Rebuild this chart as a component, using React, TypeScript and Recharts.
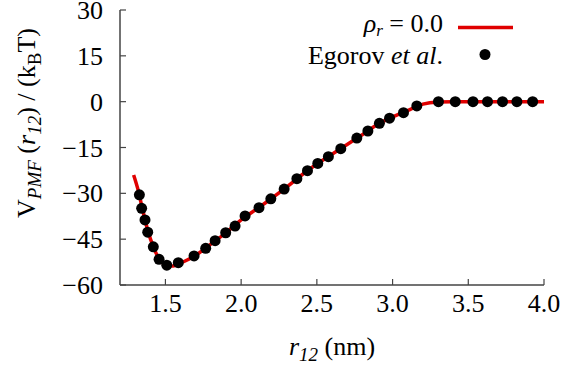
import { ComposedChart, Line, Scatter, XAxis, YAxis } from 'recharts';

// theory curve, rho_r = 0.0
const curveR = [1.29, 1.32, 1.35, 1.38, 1.42, 1.46, 1.5, 1.55, 1.6, 1.7, 1.8, 1.9, 2.0, 2.1, 2.2, 2.3, 2.4, 2.5, 2.6, 2.7, 2.8, 2.9, 3.0, 3.1, 3.2, 3.3, 3.4, 3.6, 3.8, 4.0];
const curveV = [-24, -29, -35.5, -41.5, -47.5, -51.5, -53.4, -53.8, -52.8, -50.3, -46.6, -42.9, -38.7, -35.2, -31.7, -28.0, -24.0, -20.4, -17.2, -14.0, -10.8, -7.5, -5.0, -2.9, -0.8, -0.1, 0, 0, 0, 0];

// Egorov et al.
const egorovR = [1.328, 1.343, 1.365, 1.383, 1.42, 1.458, 1.509, 1.585, 1.689, 1.766, 1.828, 1.898, 1.96, 2.026, 2.118, 2.196, 2.284, 2.368, 2.438, 2.506, 2.576, 2.658, 2.764, 2.837, 2.913, 2.98, 3.072, 3.16, 3.303, 3.414, 3.531, 3.627, 3.726, 3.821, 3.925];
const egorovV = [-30.5, -34.9, -38.7, -42.7, -47.5, -51.6, -53.5, -52.7, -50.5, -48.0, -45.5, -42.9, -40.7, -37.4, -34.7, -31.8, -28.6, -25.2, -22.6, -20.2, -18.0, -15.4, -11.9, -9.6, -7.1, -5.4, -3.6, -1.4, 0, 0, 0, 0, 0, 0, 0];

const xTicks = [1.5, 2.0, 2.5, 3.0, 3.5, 4.0];
const yTicks = [30, 15, 0, -15, -30, -45, -60];

const curveData = curveR.map((x, i) => ({ x, y: curveV[i] }));
const egorovData = egorovR.map((x, i) => ({ x, y: egorovV[i] }));

const FONT = "'Liberation Serif', 'Times New Roman', 'DejaVu Serif', serif";
const AXIS = '#444';
const FS = 26;

const fmtY = (v: number) => (v < 0 ? '\u2212' + Math.abs(v) : String(v));

const BottomTick = (props: any) => {
  const { x, y, payload } = props;
  return (
    <g>
      <line x1={x} x2={x} y1={y} y2={y - 6} stroke={AXIS} strokeWidth={1.2} />
      <text x={x} y={y + 27} textAnchor="middle" fill="#000" style={{ fontFamily: FONT, fontSize: FS }}>
        {payload.value.toFixed(1)}
      </text>
    </g>
  );
};

const TopTick = (props: any) => {
  const { x, y } = props;
  return <line x1={x} x2={x} y1={y} y2={y + 6} stroke={AXIS} strokeWidth={1.2} />;
};

const LeftTick = (props: any) => {
  const { x, y, payload } = props;
  return (
    <g>
      <line x1={x} x2={x + 6} y1={y} y2={y} stroke={AXIS} strokeWidth={1.2} />
      <text x={x - 17} y={y + 9} textAnchor="end" fill="#000" style={{ fontFamily: FONT, fontSize: FS }}>
        {fmtY(payload.value)}
      </text>
    </g>
  );
};

const RightTick = (props: any) => {
  const { x, y } = props;
  return <line x1={x} x2={x - 6} y1={y} y2={y} stroke={AXIS} strokeWidth={1.2} />;
};

const Dot = (props: any) => <circle cx={props.cx} cy={props.cy} r={5.5} fill="#000" />;

export default function App() {
  return (
    <div style={{ position: 'absolute', left: 0, top: 0, width: 566, height: 372, background: '#fff', fontFamily: FONT }}>
      <ComposedChart width={566} height={372} margin={{ top: 10, right: 22, bottom: 0, left: 0 }}>
        <XAxis
          xAxisId="b"
          type="number"
          dataKey="x"
          domain={[1.2, 4.0]}
          ticks={xTicks}
          interval={0}
          allowDataOverflow
          height={87}
          tickSize={0}
          tickMargin={0}
          tickLine={false}
          tick={BottomTick}
          axisLine={{ stroke: AXIS, strokeWidth: 1.5 }}
        />
        <XAxis
          xAxisId="t"
          orientation="top"
          type="number"
          dataKey="x"
          domain={[1.2, 4.0]}
          ticks={xTicks}
          interval={0}
          allowDataOverflow
          height={0}
          tickSize={0}
          tickMargin={0}
          tickLine={false}
          tick={TopTick}
          axisLine={{ stroke: AXIS, strokeWidth: 1.5 }}
        />
        <YAxis
          yAxisId="l"
          type="number"
          dataKey="y"
          domain={[-60, 30]}
          ticks={yTicks}
          interval={0}
          allowDataOverflow
          width={120}
          tickSize={0}
          tickMargin={0}
          tickLine={false}
          tick={LeftTick}
          axisLine={{ stroke: AXIS, strokeWidth: 1.5 }}
        />
        <YAxis
          yAxisId="r"
          orientation="right"
          type="number"
          dataKey="y"
          domain={[-60, 30]}
          ticks={yTicks}
          interval={0}
          allowDataOverflow
          width={0}
          tickSize={0}
          tickMargin={0}
          tickLine={false}
          tick={RightTick}
          axisLine={{ stroke: AXIS, strokeWidth: 1.5 }}
        />
        <Line
          xAxisId="b"
          yAxisId="r"
          data={curveData}
          dataKey="y"
          type="monotone"
          stroke="#e00000"
          strokeWidth={3.5}
          dot={false}
          activeDot={false}
          isAnimationActive={false}
        />
        <Scatter
          xAxisId="t"
          yAxisId="l"
          data={egorovData}
          dataKey="y"
          shape={Dot}
          isAnimationActive={false}
        />
      </ComposedChart>
      <svg
        width={566}
        height={372}
        style={{ position: 'absolute', left: 0, top: 0, pointerEvents: 'none', fontFamily: FONT, fontSize: FS }}
      >
        {/* legend */}
        <text x={443} y={32} textAnchor="end" fill="#000">
          <tspan fontStyle="italic">ρ</tspan>
          <tspan fontStyle="italic" fontSize={17} dy={4}>r</tspan>
          <tspan dy={-4}> = 0.0</tspan>
        </text>
        <line x1={458} x2={513} y1={27.5} y2={27.5} stroke="#e00000" strokeWidth={3.5} />
        <text x={443} y={64} textAnchor="end" fill="#000">
          Egorov <tspan fontStyle="italic">et al</tspan>.
        </text>
        <circle cx={485} cy={54.5} r={5.5} fill="#000" />
        {/* x axis title */}
        <text x={332} y={355} textAnchor="middle" fill="#000">
          <tspan fontStyle="italic">r</tspan>
          <tspan fontStyle="italic" fontSize={19} dy={6}>12</tspan>
          <tspan dy={-6}> (nm)</tspan>
        </text>
        {/* y axis title */}
        <text x={35} y={123} transform="rotate(-90, 35, 123)" textAnchor="middle" fill="#000">
          <tspan>V</tspan>
          <tspan fontStyle="italic" fontSize={19} dy={6}>PMF</tspan>
          <tspan dy={-6}> (</tspan>
          <tspan fontStyle="italic">r</tspan>
          <tspan fontStyle="italic" fontSize={19} dy={6}>12</tspan>
          <tspan dy={-6}>) / (k</tspan>
          <tspan fontSize={19} dy={6}>B</tspan>
          <tspan dy={-6}>T)</tspan>
        </text>
      </svg>
    </div>
  );
}
